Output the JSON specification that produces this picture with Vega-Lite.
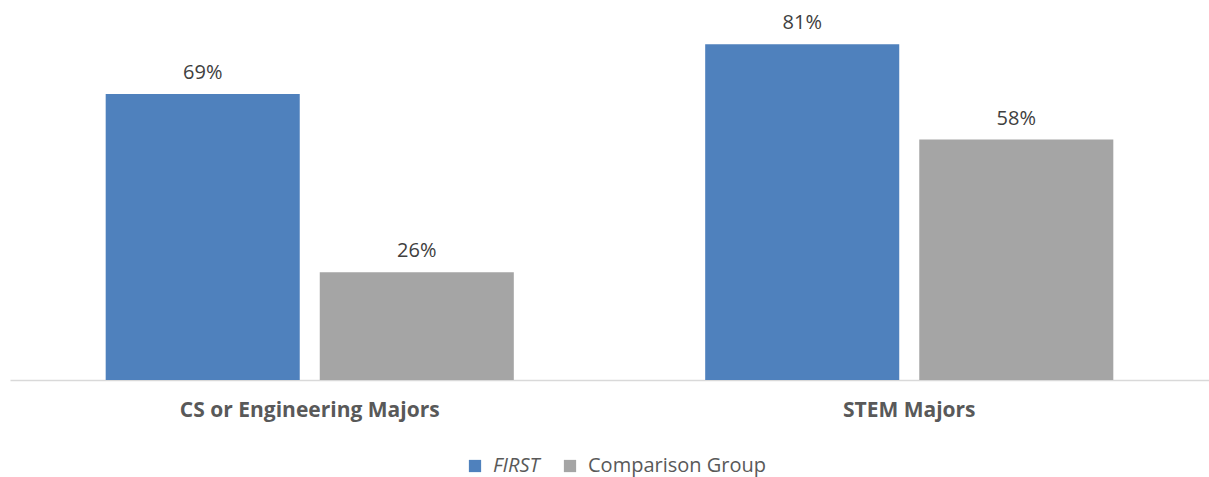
{
  "$schema": "https://vega.github.io/schema/vega-lite/v6.json",
  "width": 1199,
  "height": 373,
  "autosize": "none",
  "padding": {"left": 10, "top": 7, "right": 0, "bottom": 97},
  "background": "white",
  "config": {"view": {"stroke": null}, "font": "Open Sans"},
  "data": {
    "values": [
      {"category": "CS or Engineering Majors", "group": "FIRST", "value": 0.69},
      {"category": "CS or Engineering Majors", "group": "Comparison Group", "value": 0.26},
      {"category": "STEM Majors", "group": "FIRST", "value": 0.81},
      {"category": "STEM Majors", "group": "Comparison Group", "value": 0.58}
    ]
  },
  "encoding": {
    "x": {
      "field": "category", "type": "nominal", "sort": null,
      "scale": {"paddingInner": 0, "paddingOuter": 0},
      "axis": {
        "title": null, "labelAngle": 0, "ticks": false, "labelLimit": 0,
        "domainColor": "#D9D9D9", "domainWidth": 1.5,
        "labelFont": "Open Sans", "labelFontWeight": "bold", "labelFontSize": 21,
        "labelColor": "#595959", "labelPadding": 19, "labelBaseline": "top"
      }
    },
    "xOffset": {
      "field": "group", "type": "nominal", "sort": ["FIRST", "Comparison Group"],
      "scale": {"paddingInner": 0.0935, "paddingOuter": 0.447}
    },
    "y": {
      "field": "value", "type": "quantitative",
      "scale": {"domain": [0, 0.9], "nice": false},
      "axis": null
    }
  },
  "layer": [
    {
      "mark": {"type": "bar"},
      "encoding": {
        "color": {
          "field": "group", "type": "nominal",
          "scale": {"domain": ["FIRST", "Comparison Group"], "range": ["#4F81BD", "#A5A5A5"]},
          "legend": {
            "title": null, "orient": "none", "direction": "horizontal",
            "legendX": 455, "legendY": 449, "labelLimit": 0,
            "symbolType": "square", "symbolSize": 150, "symbolStrokeWidth": 0,
            "labelFont": "Open Sans", "labelFontSize": 20, "labelColor": "#595959",
            "symbolOffset": 0, "labelOffset": 8, "columnPadding": 20,
            "encode": {
              "labels": {"update": {"fontStyle": {"signal": "datum.value === 'FIRST' ? 'italic' : 'normal'"}}}
            }
          }
        }
      }
    },
    {
      "mark": {"type": "text", "baseline": "bottom", "dy": -11, "font": "Open Sans", "fontSize": 20, "color": "#404040"},
      "encoding": {
        "text": {"field": "value", "type": "quantitative", "format": ".0%"}
      }
    }
  ]
}
